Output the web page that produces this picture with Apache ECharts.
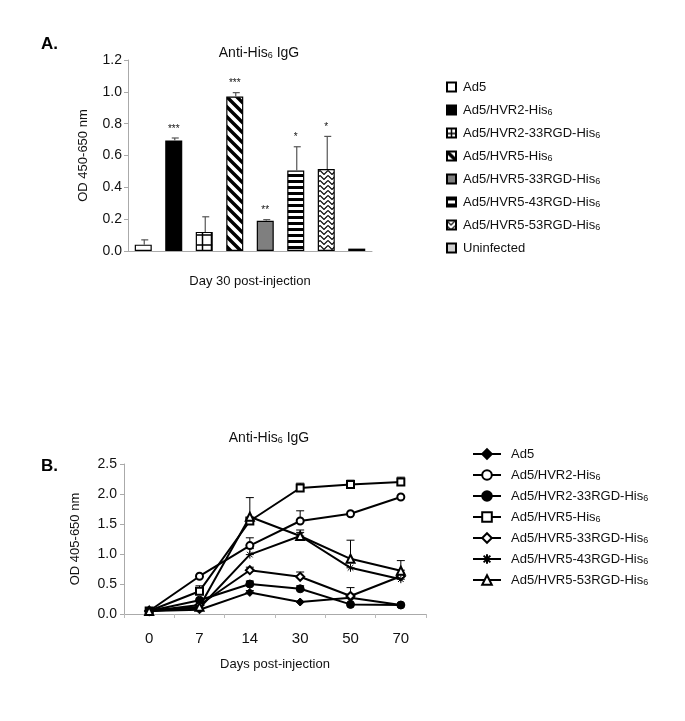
<!DOCTYPE html>
<html><head><meta charset="utf-8">
<script src="https://cdn.jsdelivr.net/npm/echarts@6/dist/echarts.min.js"></script>
<style>html,body{margin:0;padding:0;background:#fff}#c{width:685px;height:721px}</style>
</head><body><div id="c"></div>
<script>
// ---------- Panel A data ----------
const catsA = ['Ad5','Ad5/HVR2-His6','Ad5/HVR2-33RGD-His6','Ad5/HVR5-His6','Ad5/HVR5-33RGD-His6','Ad5/HVR5-43RGD-His6','Ad5/HVR5-53RGD-His6','Uninfected'];
const meanA = [0.04, 0.695, 0.12, 0.97, 0.19, 0.505, 0.515, 0.015];
const errA  = [0.03, 0.015, 0.095, 0.025, 0.007, 0.15, 0.205, 0];
const sigA  = ['', '***', '', '***', '**', '*', '*', ''];
const yTicksA = [0, 0.2, 0.4, 0.6, 0.8, 1.0, 1.2];

// ---------- Panel B data ----------
const daysB = ['0','7','14','30','50','70'];
const namesB = ['Ad5','Ad5/HVR2-His6','Ad5/HVR2-33RGD-His6','Ad5/HVR5-His6','Ad5/HVR5-33RGD-His6','Ad5/HVR5-43RGD-His6','Ad5/HVR5-53RGD-His6'];
const ad5B      = [0.05, 0.07, 0.36, 0.20, 0.27, 0.15];
const hvr2B     = [0.05, 0.63, 1.14, 1.55, 1.67, 1.95];
const hvr2rgdB  = [0.05, 0.23, 0.50, 0.42, 0.16, 0.15];
const hvr5B     = [0.05, 0.38, 1.55, 2.10, 2.16, 2.20];
const hvr5r33B  = [0.05, 0.15, 0.73, 0.62, 0.30, 0.63];
const hvr5r43B  = [0.05, 0.10, 0.99, 1.30, 0.77, 0.58];
const hvr5r53B  = [0.05, 0.12, 1.62, 1.30, 0.92, 0.72];
const errAd5B     = [0, 0, 0.03, 0, 0.06, 0];
const errHvr2B    = [0, 0, 0.13, 0.17, 0, 0];
const errHvr2rgdB = [0, 0, 0.05, 0.05, 0.1, 0];
const errHvr5B    = [0, 0.09, 0.05, 0.08, 0.07, 0.08];
const errHvr5r33B = [0, 0, 0.05, 0.08, 0.14, 0.1];
const errHvr5r43B = [0, 0, 0.1, 0.06, 0, 0.1];
const errHvr5r53B = [0, 0, 0.32, 0.1, 0.31, 0.17];
const yTicksB = [0, 0.5, 1.0, 1.5, 2.0, 2.5];

const valsB = [ad5B, hvr2B, hvr2rgdB, hvr5B, hvr5r33B, hvr5r43B, hvr5r53B];
const errsB = [errAd5B, errHvr2B, errHvr2rgdB, errHvr5B, errHvr5r33B, errHvr5r43B, errHvr5r53B];
const symB = ['diamond','emptyCircle','circle','emptyRect','emptyDiamond',
  'path://M0,5L10,5M5,0L5,10M1.5,1.5L8.5,8.5M8.5,1.5L1.5,8.5','emptyTriangle'];
const symSizeB = [8, 7, 8, 7, 8, 8, 8];

// ---------- patterns ----------
function pat(w, h, draw, bg) {
  const c = document.createElement('canvas'); c.width = w; c.height = h;
  const g = c.getContext('2d'); g.fillStyle = bg || '#fff'; g.fillRect(0, 0, w, h);
  g.strokeStyle = '#000'; draw(g); return {image: c, repeat: 'repeat'};
}
const fillsA = [
  '#fff',
  '#000',
  pat(9, 10, g => { g.lineWidth = 1.5; g.beginPath(); g.moveTo(4.5,0); g.lineTo(4.5,10); g.moveTo(0,5); g.lineTo(9,5); g.stroke(); }),
  pat(10, 10, g => { g.lineWidth = 3.4; g.beginPath(); for (let k=-1;k<=1;k++){ g.moveTo(k*10-2,-2); g.lineTo(k*10+12,12);} g.stroke(); }),
  '#7f7f7f',
  pat(4, 6, g => { g.fillStyle = '#000'; g.fillRect(0,0,4,3); }),
  pat(8, 5, g => { g.lineWidth = 1.1; g.beginPath(); g.moveTo(0,0.5); g.lineTo(4,4.5); g.lineTo(8,0.5); g.stroke(); }),
  '#cfcfcf'
];

const ZW = '\u200b';
function richName(n) { n = n.replace(ZW, ''); return n.endsWith('His6') ? n.slice(0, -1) + '{s|6}' : n; }
const subRich = { s: {fontSize: 9, verticalAlign: 'bottom', lineHeight: 10, fontFamily: 'Liberation Sans', color: '#111'} };
const FONT = 'Liberation Sans';

const series = [];
// Panel A bars
catsA.forEach((name, i) => {
  series.push({
    name, type: 'bar', xAxisIndex: 0, yAxisIndex: 0, stack: 'A', barWidth: 17,
    data: catsA.map((_, j) => j === i ? meanA[i] : '-'),
    itemStyle: {color: fillsA[i], borderColor: '#000', borderWidth: 1.2},
    emphasis: {disabled: true}
  });
});
// Panel A error bars + significance
series.push({
  type: 'custom', xAxisIndex: 0, yAxisIndex: 0, silent: true, z: 5,
  data: meanA.map((m, i) => [i, m, errA[i]]),
  renderItem: (params, api) => {
    const x = api.value(0), m = api.value(1), e = api.value(2);
    const p0 = api.coord([x, m]), p1 = api.coord([x, m + e]);
    const children = [];
    if (e > 0) {
      children.push({type: 'line', shape: {x1: p0[0]+1, y1: p0[1], x2: p0[0]+1, y2: p1[1]}, style: {stroke: '#555', lineWidth: 1.2}});
      children.push({type: 'line', shape: {x1: p0[0]-2, y1: p1[1], x2: p0[0]+5, y2: p1[1]}, style: {stroke: '#555', lineWidth: 1.2}});
    }
    const s = sigA[params.dataIndex];
    if (s) children.push({type: 'text', style: {text: s, x: p0[0], y: p1[1] - 9, textAlign: 'center', textVerticalAlign: 'middle', font: '10px Liberation Sans', fill: '#111'}});
    return {type: 'group', children};
  }
});
// Panel B lines
namesB.forEach((name, i) => {
  series.push({
    name: name + ZW, type: 'line', xAxisIndex: 1, yAxisIndex: 1, data: valsB[i],
    symbol: symB[i], symbolSize: symSizeB[i], showAllSymbol: true,
    lineStyle: {color: '#000', width: 2},
    itemStyle: {color: '#000', borderColor: '#000', borderWidth: 1},
    emphasis: {disabled: true}, z: 3
  });
  series.push({
    type: 'custom', xAxisIndex: 1, yAxisIndex: 1, silent: true, z: 2,
    data: valsB[i].map((v, j) => [j, v, errsB[i][j]]),
    renderItem: (params, api) => {
      const x = api.value(0), m = api.value(1), e = api.value(2);
      if (!(e > 0)) return null;
      const p0 = api.coord([x, m]), p1 = api.coord([x, m + e]);
      return {type: 'group', children: [
        {type: 'line', shape: {x1: p0[0], y1: p0[1], x2: p0[0], y2: p1[1]}, style: {stroke: '#000', lineWidth: 1}},
        {type: 'line', shape: {x1: p0[0]-4, y1: p1[1], x2: p0[0]+4, y2: p1[1]}, style: {stroke: '#000', lineWidth: 1}}
      ]};
    }
  });
});

const option = {
  animation: false,
  backgroundColor: '#fff',
  textStyle: {fontFamily: FONT},
  title: [
    {text: 'A.', left: 36, top: 31, textStyle: {fontSize: 17, fontWeight: 'bold', color: '#000', fontFamily: FONT}},
    {text: 'Anti-His{s|6} IgG', left: 254, top: 41, textAlign: 'center', textStyle: {fontSize: 14, fontWeight: 'normal', color: '#111', fontFamily: FONT, rich: subRich}},
    {text: 'B.', left: 36, top: 453, textStyle: {fontSize: 17, fontWeight: 'bold', color: '#000', fontFamily: FONT}},
    {text: 'Anti-His{s|6} IgG', left: 264, top: 426, textAlign: 'center', textStyle: {fontSize: 14, fontWeight: 'normal', color: '#111', fontFamily: FONT, rich: subRich}}
  ],
  legend: [
    {
      data: catsA, orient: 'vertical', left: 441, top: 75, itemWidth: 9, itemHeight: 9, itemGap: 9,
      icon: 'rect', selectedMode: false, formatter: richName,
      textStyle: {fontSize: 13, color: '#111', fontFamily: FONT, lineHeight: 14, padding: [0,0,0,2], rich: subRich}
    },
    {
      data: namesB.map(n => n + ZW), orient: 'vertical', left: 467, top: 442, itemWidth: 28, itemHeight: 12, itemGap: 7,
      selectedMode: false, formatter: richName,
      textStyle: {fontSize: 13, color: '#111', fontFamily: FONT, lineHeight: 14, padding: [0,0,0,5], rich: subRich}
    }
  ],
  grid: [
    {left: 128, top: 60, width: 244, height: 191},
    {left: 124, top: 464, width: 302, height: 150}
  ],
  xAxis: [
    {type: 'category', gridIndex: 0, data: catsA, axisLabel: {show: false}, axisTick: {show: false},
     axisLine: {lineStyle: {color: '#aaa'}},
     name: 'Day 30 post-injection', nameLocation: 'middle', nameGap: 24,
     nameTextStyle: {fontSize: 13, color: '#111', fontFamily: FONT}},
    {type: 'category', gridIndex: 1, data: daysB, boundaryGap: true,
     axisLine: {lineStyle: {color: '#aaa'}}, axisTick: {show: true, length: 4, lineStyle: {color: '#bbb'}},
     axisLabel: {fontSize: 15, color: '#111', margin: 17, fontFamily: FONT},
     name: 'Days post-injection', nameLocation: 'middle', nameGap: 44,
     nameTextStyle: {fontSize: 13, color: '#111', fontFamily: FONT}}
  ],
  yAxis: [
    {type: 'value', gridIndex: 0, min: 0, max: 1.2, interval: 0.2,
     axisLine: {show: true, lineStyle: {color: '#aaa'}}, axisTick: {show: true, length: 4, lineStyle: {color: '#aaa'}},
     splitLine: {show: false},
     axisLabel: {fontSize: 14, color: '#111', margin: 6, fontFamily: FONT, formatter: v => v.toFixed(1)},
     name: 'OD 450-650 nm', nameLocation: 'middle', nameGap: 38,
     nameTextStyle: {fontSize: 13, color: '#111', fontFamily: FONT}},
    {type: 'value', gridIndex: 1, min: 0, max: 2.5, interval: 0.5,
     axisLine: {show: true, lineStyle: {color: '#aaa'}}, axisTick: {show: true, length: 4, lineStyle: {color: '#aaa'}},
     splitLine: {show: false},
     axisLabel: {fontSize: 14, color: '#111', margin: 7, fontFamily: FONT, formatter: v => v.toFixed(1)},
     name: 'OD 405-650 nm', nameLocation: 'middle', nameGap: 42,
     nameTextStyle: {fontSize: 13, color: '#111', fontFamily: FONT}}
  ],
  series
};
const chart = echarts.init(document.getElementById('c'), null, {renderer: 'canvas'});
chart.setOption(option);
</script>
</body></html>
